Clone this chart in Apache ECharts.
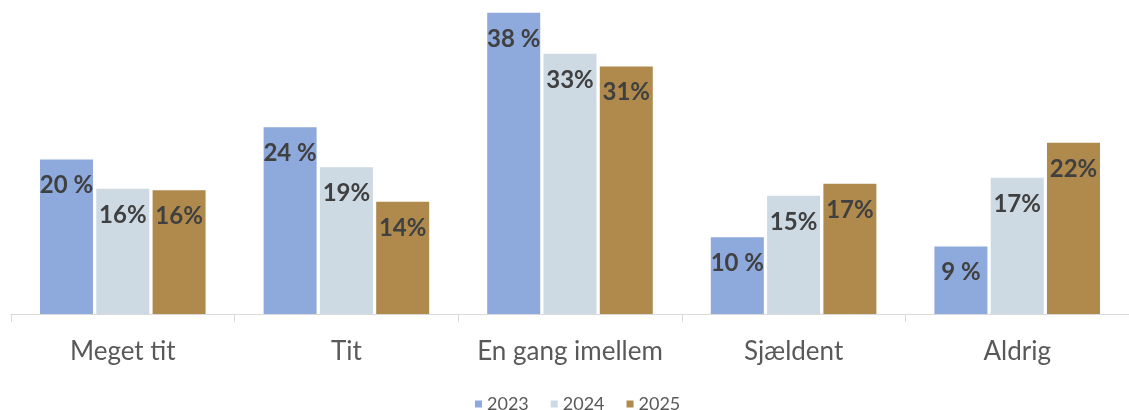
<!DOCTYPE html>
<html>
<head>
<meta charset="utf-8">
<script src="https://cdn.jsdelivr.net/npm/echarts@6/dist/echarts.min.js"></script>
<style>
  html, body { margin: 0; padding: 0; background: #ffffff; }
  #chart { width: 1129px; height: 410px; }
</style>
</head>
<body>
<div id="chart"></div>
<script>
const categories = ['Meget tit', 'Tit', 'En gang imellem', 'Sjældent', 'Aldrig'];
const years = ['2023', '2024', '2025'];
const values2023 = [19.68, 23.80, 38.37, 9.78, 8.60];
const values2024 = [15.95, 18.70, 33.15, 15.06, 17.35];
const values2025 = [15.77, 14.29, 31.53, 16.59, 21.81];
const labels2023 = ['20 %', '24 %', '38 %', '10 %', '9 %'];
const labels2024 = ['16%', '19%', '33%', '15%', '17%'];
const labels2025 = ['16%', '14%', '31%', '17%', '22%'];

const colors = ['#8EA9DB', '#CDD9E3', '#B08A4D'];
const seriesValues = [values2023, values2024, values2025];
const seriesLabels = [labels2023, labels2024, labels2025];

const chart = echarts.init(document.getElementById('chart'), null, { renderer: 'canvas' });

const series = years.map((y, i) => ({
  name: y,
  type: 'bar',
  data: seriesValues[i],
  barWidth: 53,
  barGap: '6.2%',
  itemStyle: { color: colors[i] },
  label: {
    show: true,
    position: 'insideTop',
    distance: 14,
    fontFamily: 'Lato',
    fontWeight: 'bold',
    fontSize: 24,
    lineHeight: 24,
    color: '#404040',
    formatter: (p) => seriesLabels[i][p.dataIndex]
  },
  emphasis: { disabled: true }
}));

chart.setOption({
  animation: false,
  color: colors,
  grid: { left: 11, top: 0, bottom: 96, width: 1120, containLabel: false },
  legend: {
    data: years,
    left: 470,
    top: 390,
    icon: 'rect',
    itemWidth: 7,
    itemHeight: 7,
    itemGap: 22,
    textStyle: { fontFamily: 'Lato', fontSize: 18, lineHeight: 18, color: '#595959' }
  },
  xAxis: {
    type: 'category',
    data: categories,
    axisLine: { show: true, lineStyle: { color: '#D9D9D9', width: 1 } },
    axisTick: { show: true, interval: 0, length: 8, lineStyle: { color: '#D9D9D9', width: 1 } },
    axisLabel: { interval: 0, margin: 25, fontFamily: 'Lato', fontSize: 26, lineHeight: 26, color: '#595959' }
  },
  yAxis: {
    type: 'value',
    min: 0,
    max: 40,
    show: false,
    splitLine: { show: false }
  },
  series: series
});
</script>
</body>
</html>
